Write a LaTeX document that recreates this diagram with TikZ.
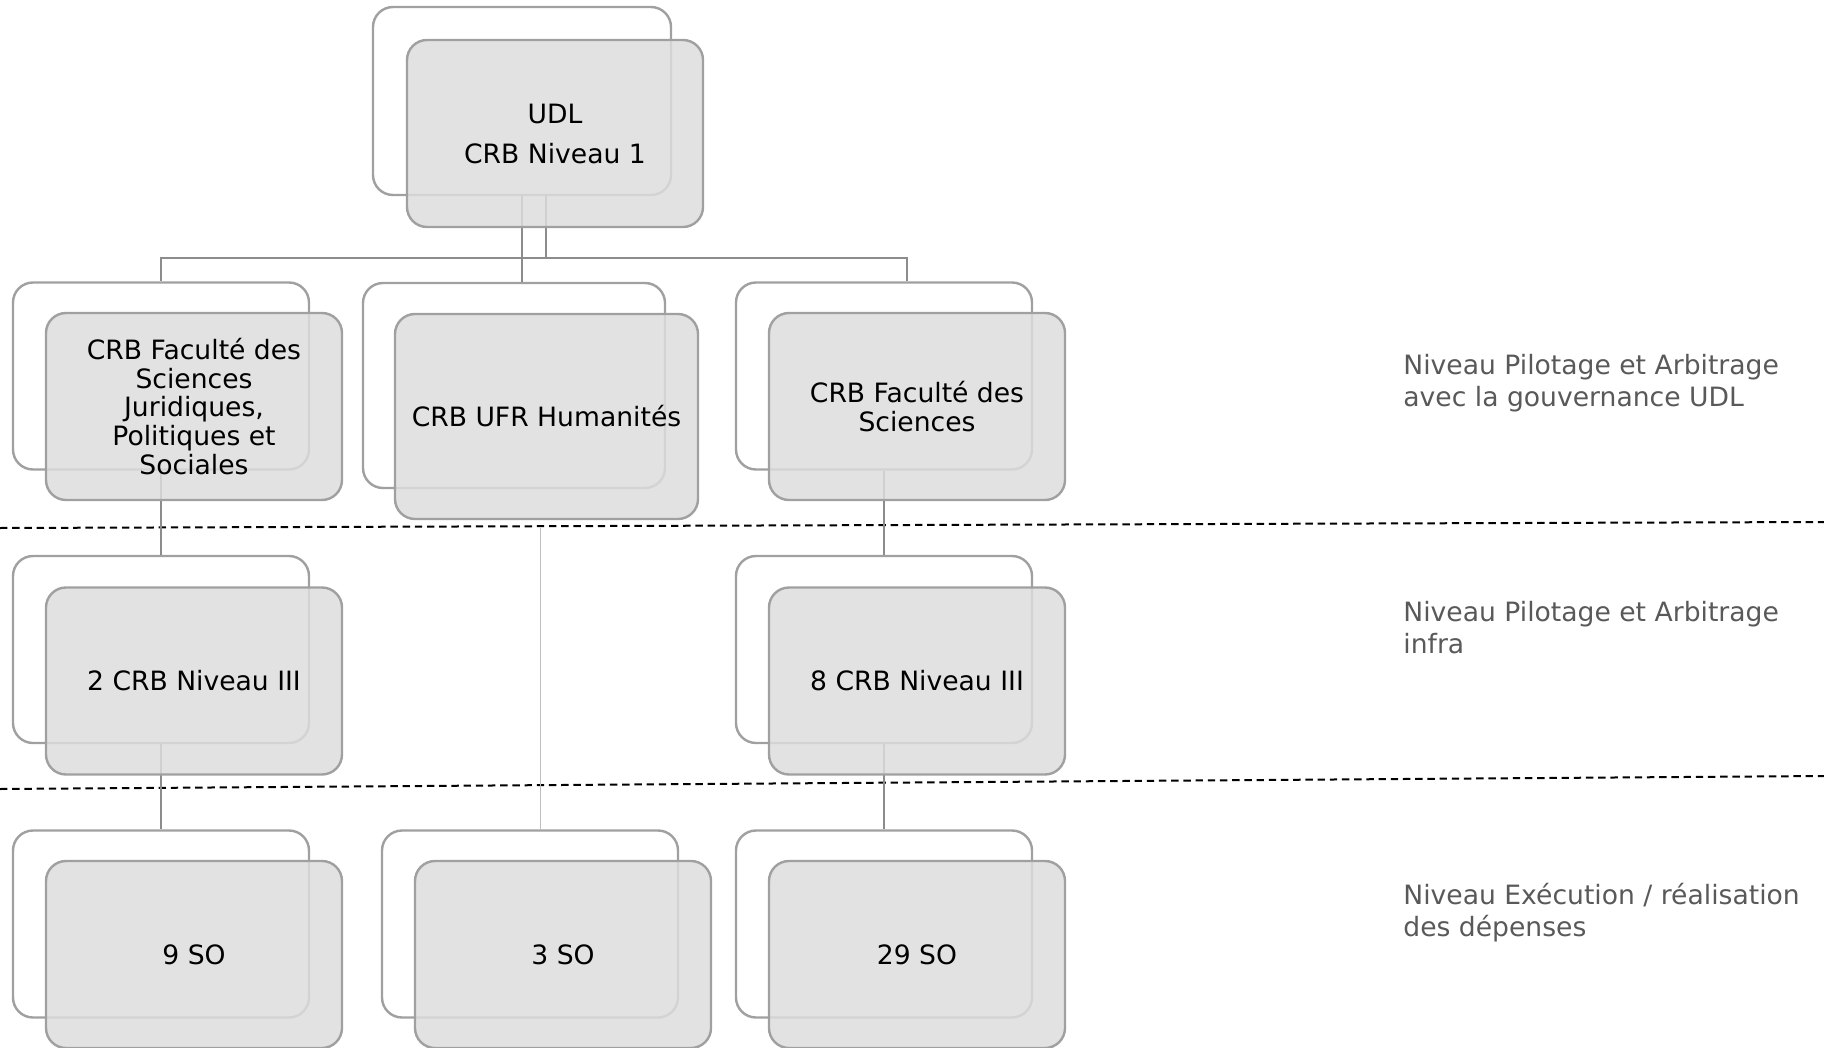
\documentclass[tikz,border=0pt]{standalone}
\usepackage{fontspec}
\setmainfont{DejaVu Sans}
\definecolor{boxline}{HTML}{A0A0A0}
\definecolor{boxfill}{HTML}{DDDDDD}
\definecolor{connline}{HTML}{8C8C8C}
\definecolor{connlight}{HTML}{BEBEBE}
\definecolor{labelgray}{HTML}{595959}
\tikzset{
  backbox/.style={draw=boxline, line width=1.2pt, rounded corners=10pt, fill=white,
    minimum width=148pt, minimum height=93.5pt, inner sep=0pt},
  frontbox/.style={draw=boxline, line width=1.2pt, rounded corners=10pt, fill=boxfill,
    fill opacity=0.85, text opacity=1, draw opacity=1,
    minimum width=148pt, minimum height=93.5pt, inner sep=0pt, align=center,
    font=\fontsize{13.3}{14.4}\selectfont, text=black},
  conn/.style={draw=connline, line width=1pt},
  connthin/.style={draw=connlight, line width=0.75pt},
  levelline/.style={draw=black, line width=1pt, dash pattern=on 3.7pt off 2.4pt},
  levellabel/.style={anchor=base west, align=left, inner sep=0pt, text=labelgray,
    font=\fontsize{13.3}{16}\selectfont}
}
\begin{document}
\begin{tikzpicture}[x=0.5pt,y=-0.5pt]
\useasboundingbox (0,0) rectangle (1824,1048);
% back boxes
\node[backbox, minimum width=149pt, minimum height=94pt] (udlb) at (522,101) {};
\node[backbox] (fjb) at (161,376) {};
\node[backbox, minimum width=151pt, minimum height=102.5pt] (ufrb) at (514,385.5) {};
\node[backbox] (fsb) at (884,376) {};
\node[backbox] (n3lb) at (161,649.5) {};
\node[backbox] (n3rb) at (884,649.5) {};
\node[backbox] (so9b) at (161,924) {};
\node[backbox] (so3b) at (530,924) {};
\node[backbox] (so29b) at (884,924) {};
% level separators
\coordinate (d1l) at (0,528);
\coordinate (d1r) at (1824,522);
\coordinate (d2l) at (0,789);
\coordinate (d2r) at (1824,776);
\draw[levelline] (d1l) -- (d1r);
\draw[levelline] (d2l) -- (d2r);
% connectors
\coordinate (barL) at (161,258);
\coordinate (barR) at (907,258);
\coordinate (udlR) at (546,195);
\draw[conn] (fjb.north) -- (barL) -- (barR) -- (barR |- fsb.north);
\draw[conn] (udlR) -- (udlR |- barL);
\draw[conn] (udlb.south) -- (udlb.south |- ufrb.north);
\draw[conn] (fjb.south) -- (n3lb.north);
\draw[conn] (n3lb.south) -- (so9b.north);
\draw[conn] (fsb.south) -- (n3rb.north);
\draw[conn] (n3rb.south) -- (so29b.north);
% front boxes
\node[frontbox] (udl) at (555,133.5) {UDL\\[5.6pt]CRB Niveau 1};
\node[frontbox] (fj) at (194,406.5) {CRB Faculté des\\Sciences\\Juridiques,\\Politiques et\\Sociales};
\node[frontbox, minimum width=151.5pt, minimum height=102.5pt] (ufr) at (546.5,416.5) {CRB UFR Humanités};
\node[frontbox] (fs) at (917,406.5) {CRB Faculté des\\Sciences};
\node[frontbox] (n3l) at (194,681) {2 CRB Niveau III};
\node[frontbox] (n3r) at (917,681) {8 CRB Niveau III};
\node[frontbox] (so9) at (194,954.5) {9 SO};
\node[frontbox] (so3) at (563,954.5) {3 SO};
\node[frontbox] (so29) at (917,954.5) {29 SO};
\draw[connthin] ([xshift=-3pt,yshift=-4pt]ufr.south) -- ([xshift=-3pt]ufr.south |- so3b.north);
% level labels
\node[levellabel] (lab1) at (1403,406) {Niveau Pilotage et Arbitrage\\avec la gouvernance UDL};
\node[levellabel] (lab2) at (1403,653) {Niveau Pilotage et Arbitrage\\infra};
\node[levellabel] (lab3) at (1403,936) {Niveau Exécution / réalisation\\des dépenses};
\end{tikzpicture}
\end{document}
